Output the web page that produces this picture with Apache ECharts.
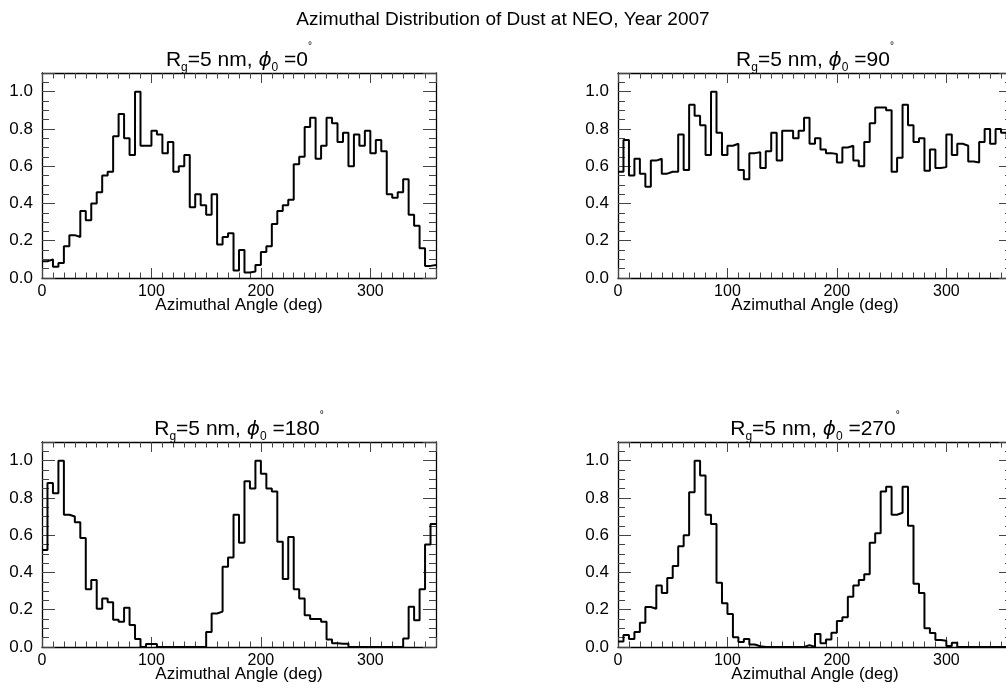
<!DOCTYPE html>
<html lang="en">
<head>
  <meta charset="UTF-8">
  <title>Azimuthal Distribution of Dust at NEO, Year 2007</title>
  <script src="https://cdn.jsdelivr.net/npm/echarts@6.0.0/dist/echarts.min.js"></script>
  <style>
    body { margin: 0; background: #fff; }
  </style>
</head>
<body>
  <div id="app" style="width: 1006px; height: 694px;"></div>
  <script>
    // 72 bins of 5 degrees, 0..360, normalised to the peak
    var binWidth = 5
    var angleMin = 0
    var angleMax = 360
    var panelPhi = ['0', '90', '180', '270']

    var dustPhi0 = [
      0.09, 0.10, 0.06, 0.08, 0.17, 0.23, 0.22, 0.36, 0.31, 0.40,
      0.46, 0.55, 0.57, 0.76, 0.88, 0.75, 0.66, 1.00, 0.71, 0.71,
      0.79, 0.77, 0.67, 0.73, 0.57, 0.60, 0.66, 0.38, 0.45, 0.39,
      0.34, 0.45, 0.18, 0.22, 0.24, 0.04, 0.15, 0.03, 0.035, 0.07,
      0.14, 0.17, 0.29, 0.36, 0.39, 0.42, 0.61, 0.65, 0.81, 0.86,
      0.64, 0.71, 0.86, 0.83, 0.73, 0.78, 0.60, 0.77, 0.71, 0.79,
      0.67, 0.74, 0.68, 0.45, 0.43, 0.46, 0.53, 0.34, 0.28, 0.16,
      0.065, 0.07
    ]
    var dustPhi90 = [
      0.57, 0.74, 0.55, 0.64, 0.56, 0.49, 0.63, 0.64, 0.56, 0.57,
      0.57, 0.77, 0.58, 0.93, 0.87, 0.82, 0.66, 1.00, 0.78, 0.66,
      0.71, 0.72, 0.58, 0.53, 0.67, 0.675, 0.59, 0.68, 0.78, 0.63,
      0.79, 0.79, 0.75, 0.79, 0.86, 0.72, 0.75, 0.69, 0.67, 0.665,
      0.62, 0.70, 0.71, 0.63, 0.60, 0.73, 0.83, 0.915, 0.915, 0.90,
      0.57, 0.645, 0.93, 0.82, 0.73, 0.75, 0.575, 0.69, 0.59, 0.595,
      0.77, 0.66, 0.72, 0.71, 0.625, 0.62, 0.73, 0.80, 0.72, 0.80,
      0.78, 0.75
    ]
    var dustPhi180 = [
      0.52, 0.88, 0.825, 1.00, 0.71, 0.70, 0.67, 0.585, 0.31, 0.36,
      0.205, 0.26, 0.24, 0.146, 0.135, 0.21, 0.118, 0.043, 0, 0.016,
      0.016, 0, 0, 0, 0, 0, 0, 0, 0, 0,
      0.08, 0.18, 0.19, 0.43, 0.48, 0.71, 0.56, 0.89, 0.85, 1.00,
      0.93, 0.85, 0.835, 0.565, 0.365, 0.59, 0.31, 0.26, 0.17, 0.15,
      0.15, 0.135, 0.04, 0.02, 0.018, 0.018, 0, 0, 0, 0,
      0, 0, 0, 0, 0, 0, 0.045, 0.216, 0.143, 0.31,
      0.55, 0.66
    ]
    var dustPhi270 = [
      0.03, 0.065, 0.043, 0.08, 0.13, 0.215, 0.205, 0.33, 0.29, 0.37,
      0.435, 0.54, 0.60, 0.83, 1.00, 0.92, 0.71, 0.66, 0.345, 0.235,
      0.177, 0.052, 0.027, 0.043, 0.013, 0.004, 0, 0, 0, 0,
      0, 0, 0, 0, 0.01, 0, 0.07, 0.02, 0.04, 0.077,
      0.14, 0.16, 0.27, 0.33, 0.36, 0.39, 0.56, 0.61, 0.835, 0.86,
      0.71, 0.72, 0.86, 0.65, 0.34, 0.29, 0.10, 0.075, 0.038, 0.034,
      0.005, 0.023, 0, 0, 0, 0, 0, 0, 0, 0,
      0, 0
    ]
    var panels = [dustPhi0, dustPhi90, dustPhi180, dustPhi270]

    var font = 'Liberation Sans'
    var gridBoxes = [
      { left: 42, top: 73, width: 394, height: 205 },
      { left: 618, top: 73, width: 394, height: 205 },
      { left: 42, top: 442, width: 394, height: 205 },
      { left: 618, top: 442, width: 394, height: 205 }
    ]

    // step line needs the left edge of every bin plus the closing edge
    function histPoints(values) {
      var pts = []
      for (var i = 0; i < values.length; i++) {
        pts.push([angleMin + i * binWidth, values[i]])
      }
      pts.push([angleMax, values[values.length - 1]])
      return pts
    }

    var tickColor = '#444'
    var frameLine = { show: true, onZero: false, lineStyle: { color: '#000', width: 1.3 } }

    function xAxisFor(g, pos) {
      var bottom = pos === 'bottom'
      return {
        type: 'value', gridIndex: g, position: pos,
        min: angleMin, max: angleMax, interval: 100,
        axisLine: frameLine,
        axisTick: { show: true, inside: true, length: 10, lineStyle: { color: tickColor, width: 1 } },
        minorTick: { show: true, splitNumber: 10, length: 5.5, lineStyle: { color: tickColor, width: 1 } },
        splitLine: { show: false },
        axisLabel: {
          show: bottom, margin: 6, showMaxLabel: false,
          fontSize: 16, fontFamily: font, color: '#000'
        },
        name: bottom ? 'Azimuthal Angle (deg)' : '',
        nameLocation: 'middle', nameGap: 19, nameMoveOverlap: false,
        nameTextStyle: { fontSize: 17, fontFamily: font, color: '#000', verticalAlign: 'top' }
      }
    }

    function yAxisFor(g, pos) {
      var left = pos === 'left'
      return {
        type: 'value', gridIndex: g, position: pos,
        min: 0, max: 1.1, interval: 0.2,
        axisLine: frameLine,
        axisTick: { show: true, inside: true, length: 13, lineStyle: { color: tickColor, width: 1 } },
        minorTick: { show: true, splitNumber: 4, length: 7, lineStyle: { color: tickColor, width: 1 } },
        splitLine: { show: false },
        axisLabel: {
          show: left, margin: 9, showMaxLabel: false,
          fontSize: 17, fontFamily: font, color: '#000',
          formatter: function (v) { return v.toFixed(1) }
        }
      }
    }

    // all pieces centred on one line; padding nudges subscript down and degree up
    var titleRich = {
      r: { fontSize: 21, fontWeight: 'normal', fontFamily: font, color: '#000', lineHeight: 21, verticalAlign: 'middle' },
      p: { fontSize: 20, fontWeight: 'normal', fontFamily: 'DejaVu Sans', fontStyle: 'italic', color: '#000', lineHeight: 21, verticalAlign: 'middle' },
      s: { fontSize: 12, fontWeight: 'normal', fontFamily: font, color: '#000', lineHeight: 12, verticalAlign: 'middle', padding: [15, 0, 0, 0] },
      d: { fontSize: 10, fontWeight: 'normal', fontFamily: font, color: '#000', lineHeight: 10, verticalAlign: 'middle', padding: [0, 0, 28, 0] }
    }

    var grid = []
    var xAxis = []
    var yAxis = []
    var series = []
    var title = [{
      text: 'Azimuthal Distribution of Dust at NEO, Year 2007',
      left: 'center', top: 10, padding: 0,
      textStyle: { fontSize: 19, fontWeight: 'normal', fontFamily: font, color: '#000' }
    }]

    for (var g = 0; g < panels.length; g++) {
      var box = gridBoxes[g]
      grid.push({
        left: box.left, top: box.top, width: box.width, height: box.height,
        containLabel: false, outerBoundsMode: 'none'
      })
      xAxis.push(xAxisFor(g, 'bottom'), xAxisFor(g, 'top'))
      yAxis.push(yAxisFor(g, 'left'), yAxisFor(g, 'right'))
      series.push({
        type: 'line', step: 'end', xAxisIndex: 2 * g, yAxisIndex: 2 * g,
        data: histPoints(panels[g]), symbol: 'none', silent: true,
        lineStyle: { color: '#000', width: 2 }
      })
      title.push({
        text: '{r|R}{s|g}{r|=5 nm, }{p|\u03d5}{s|0}{r| =' + panelPhi[g] + '}{d|\u00b0}',
        left: box.left + box.width / 2, textAlign: 'center',
        top: box.top - 23, padding: 0,
        textStyle: { fontWeight: 'normal', rich: titleRich }
      })
    }

    var mCharts = echarts.init(document.querySelector('#app'))
    mCharts.setOption({
      animation: false,
      backgroundColor: '#fff',
      title: title,
      grid: grid,
      xAxis: xAxis,
      yAxis: yAxis,
      series: series
    })
  </script>
</body>
</html>
